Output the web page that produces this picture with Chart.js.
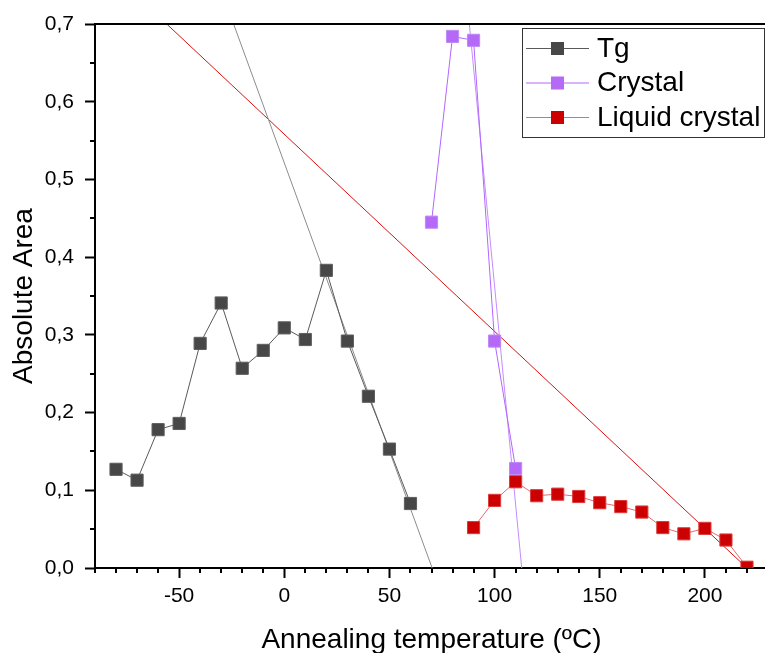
<!DOCTYPE html>
<html>
<head>
<meta charset="utf-8">
<script src="https://cdn.jsdelivr.net/npm/chart.js@4/dist/chart.umd.min.js"></script>
<style>
  html, body { margin: 0; padding: 0; overflow: hidden; background: #fff; }
  canvas { display: block; }
</style>
</head>
<body>
<canvas id="chart" width="780" height="660"></canvas>
<script>
// Absolute area of each transition versus annealing temperature
const tgTemps = [-80, -70, -60, -50, -40, -30, -20, -10, 0, 10, 20, 30, 40, 50, 60];
const tgArea = [0.127, 0.113, 0.178, 0.186, 0.289, 0.341, 0.257, 0.280, 0.309, 0.294, 0.383, 0.292, 0.221, 0.153, 0.083];

const crystalTemps = [70, 80, 90, 100, 110];
const crystalArea = [0.445, 0.684, 0.679, 0.292, 0.128];

const lcTemps = [90, 100, 110, 120, 130, 140, 150, 160, 170, 180, 190, 200, 210, 220];
const lcArea = [0.052, 0.087, 0.111, 0.093, 0.095, 0.092, 0.084, 0.079, 0.072, 0.052, 0.044, 0.051, 0.036, 0.001];

// Straight trend lines (end points in data units)
const tgTrendTemps = [-24.1, 70.3];
const tgTrendArea = [0.7, 0.0];
const crystalTrendTemps = [88.0, 112.9];
const crystalTrendArea = [0.7, 0.0];
const lcTrendTemps = [-55.9, 220.0];
const lcTrendArea = [0.7, 0.0];

// Axis ticks
const xTicks = [-50, 0, 50, 100, 150, 200];
const yTicks = [0.0, 0.1, 0.2, 0.3, 0.4, 0.5, 0.6, 0.7];
const xRange = [-90, 230];
const yRange = [0, 0.7];

const FONT = "'Liberation Sans', Arial, Helvetica, sans-serif";

const series = [
  { label: 'Tg', fill: '#474747', edge: '#5e5e5e', line: '#5a5a5a' },
  { label: 'Crystal', fill: '#b46af7', edge: '#c08af7', line: '#b266ff' },
  { label: 'Liquid crystal', fill: '#cc0000', edge: '#dd3a3a', line: '#e66a6a' }
];

const pts = (xs, ys) => xs.map((x, i) => ({ x: x, y: ys[i] }));

function markerSet(s, xs, ys) {
  return {
    label: s.label,
    data: pts(xs, ys),
    borderColor: s.line,
    borderWidth: 1,
    pointStyle: 'rect',
    pointRadius: 8.6,
    pointBackgroundColor: s.fill,
    pointBorderColor: s.edge,
    pointBorderWidth: 1,
    tension: 0,
    clip: 0
  };
}

function trendSet(xs, ys, color) {
  return {
    label: '',
    trend: true,
    data: pts(xs, ys),
    borderColor: color,
    borderWidth: 1,
    pointRadius: 0,
    tension: 0,
    clip: 0
  };
}

// Minor ticks, top frame line and boxed legend
const decorations = {
  id: 'decorations',
  afterDraw(chart) {
    const { ctx, chartArea: a, scales: { x, y } } = chart;
    ctx.save();
    ctx.strokeStyle = '#000';
    ctx.lineWidth = 2;
    // x minor ticks every 10
    for (let k = xRange[0] / 10; k <= xRange[1] / 10; k++) {
      const v = k * 10;
      if (v % 50 === 0) continue;
      const px = Math.round(x.getPixelForValue(v));
      ctx.beginPath();
      ctx.moveTo(px, a.bottom);
      ctx.lineTo(px, a.bottom + 5);
      ctx.stroke();
    }
    // y minor ticks every 0.05
    for (let k = 1; k < 14; k += 2) {
      const py = Math.round(y.getPixelForValue(k * 0.05));
      ctx.beginPath();
      ctx.moveTo(a.left - 5, py);
      ctx.lineTo(a.left, py);
      ctx.stroke();
    }
    // top frame
    ctx.beginPath();
    ctx.moveTo(a.left, a.top);
    ctx.lineTo(a.right + 20, a.top);
    ctx.stroke();

    // legend
    const box = { x: 522.5, y: 28.5, w: 242, h: 109 };
    ctx.fillStyle = '#fff';
    ctx.fillRect(box.x, box.y, box.w, box.h);
    ctx.lineWidth = 1;
    ctx.strokeStyle = '#333';
    ctx.strokeRect(box.x, box.y, box.w, box.h);
    const rows = [48, 82.5, 117];
    ctx.font = '28px ' + FONT;
    ctx.textBaseline = 'middle';
    ctx.textAlign = 'left';
    chart.data.datasets.filter(d => !d.trend).forEach((d, i) => {
      const yy = rows[i];
      ctx.strokeStyle = d.borderColor;
      ctx.lineWidth = 1;
      ctx.beginPath();
      ctx.moveTo(526, yy + 0.5);
      ctx.lineTo(589, yy + 0.5);
      ctx.stroke();
      ctx.fillStyle = d.pointBackgroundColor;
      ctx.fillRect(551, yy - 6, 13, 13);
      ctx.fillStyle = '#000';
      ctx.fillText(d.label, 597, yy + 1);
    });
    ctx.restore();
  }
};

new Chart(document.getElementById('chart'), {
  type: 'line',
  data: {
    datasets: [
      markerSet(series[0], tgTemps, tgArea),
      markerSet(series[1], crystalTemps, crystalArea),
      markerSet(series[2], lcTemps, lcArea),
      trendSet(tgTrendTemps, tgTrendArea, '#8c8c8c'),
      trendSet(crystalTrendTemps, crystalTrendArea, '#c48cff'),
      trendSet(lcTrendTemps, lcTrendArea, '#e01010')
    ]
  },
  options: {
    responsive: false,
    animation: false,
    events: [],
    layout: { padding: { top: 24, right: 12, bottom: 0, left: 0 } },
    plugins: { legend: { display: false }, tooltip: { enabled: false } },
    scales: {
      x: {
        type: 'linear',
        min: xRange[0],
        max: xRange[1],
        afterBuildTicks: ax => { ax.ticks = xTicks.map(v => ({ value: v })); },
        afterFit: ax => { ax.height = 92; },
        border: { display: true, color: '#000', width: 2 },
        grid: { drawOnChartArea: false, drawTicks: true, tickLength: 10, tickColor: '#000', tickWidth: 2, color: '#000' },
        ticks: { color: '#000', font: { family: FONT, size: 21 }, padding: 6, maxRotation: 0, autoSkip: false,
                 callback: v => String(v) },
        title: { display: true, text: 'Annealing temperature (ºC)', color: '#000',
                 font: { family: FONT, size: 28 }, padding: { top: 0, bottom: 3 } }
      },
      y: {
        type: 'linear',
        min: yRange[0],
        max: yRange[1],
        afterBuildTicks: ax => { ax.ticks = yTicks.map(v => ({ value: v })); },
        afterFit: ax => { ax.width = 95; },
        border: { display: true, color: '#000', width: 2 },
        grid: { drawOnChartArea: false, drawTicks: true, tickLength: 10, tickColor: '#000', tickWidth: 2, color: '#000' },
        ticks: { color: '#000', font: { family: FONT, size: 21 }, padding: 11,
                 callback: v => v.toFixed(1).replace('.', ',') },
        title: { display: true, text: 'Absolute Area', color: '#000',
                 font: { family: FONT, size: 28 }, padding: { top: 7, bottom: 0 } }
      }
    }
  },
  plugins: [decorations]
});
</script>
</body>
</html>
